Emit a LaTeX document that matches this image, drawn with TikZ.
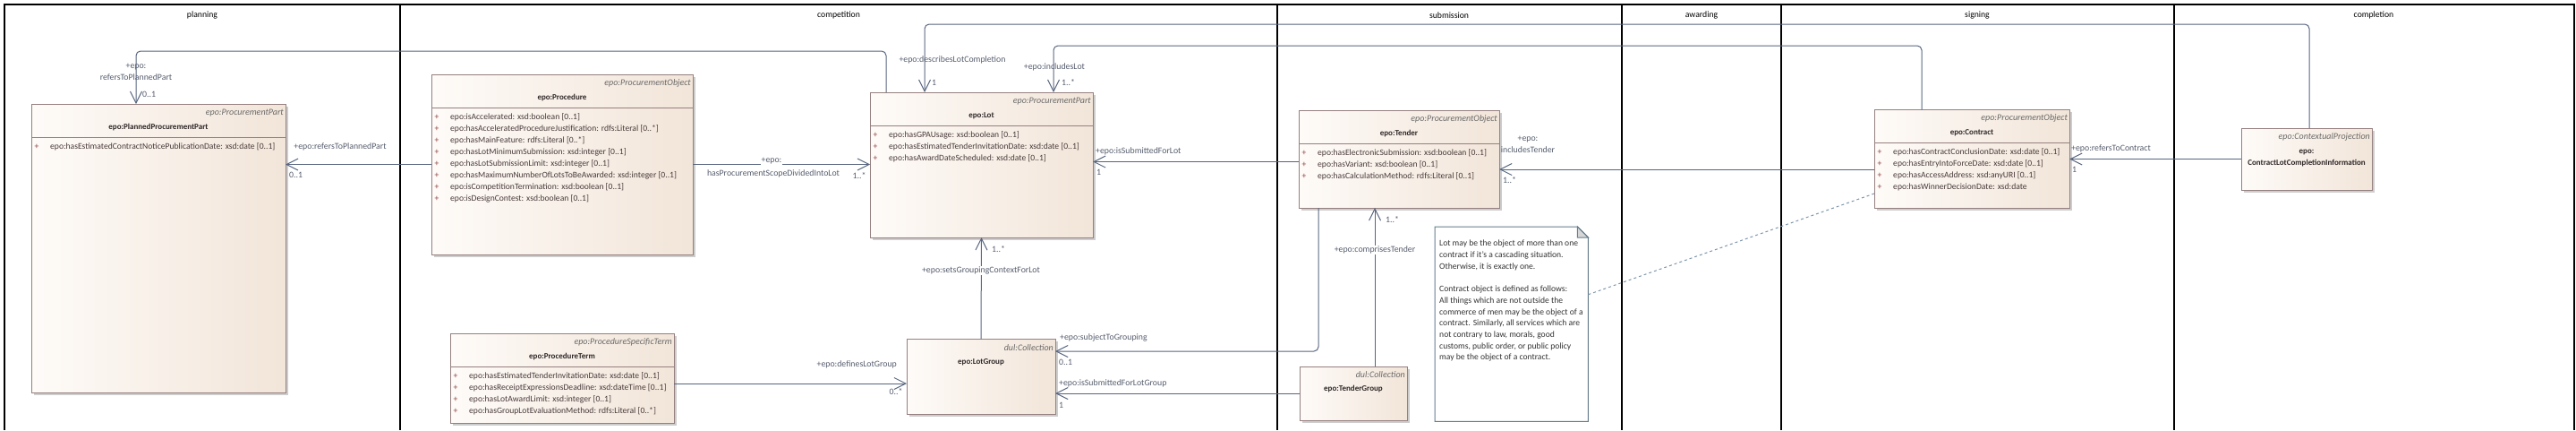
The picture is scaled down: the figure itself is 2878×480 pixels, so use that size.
\documentclass[tikz,border=0pt]{standalone}
\usepackage{fontspec}
\setmainfont{Carlito}
\usetikzlibrary{arrows.meta,shadows}

\definecolor{laneline}{RGB}{0,0,0}
\definecolor{boxline}{RGB}{150,128,128}
\definecolor{boxleft}{RGB}{254,251,248}
\definecolor{boxright}{RGB}{242,229,217}
\definecolor{shadowgray}{RGB}{205,205,205}
\definecolor{assocline}{RGB}{88,102,128}
\definecolor{roletext}{RGB}{85,92,108}
\definecolor{attrtext}{RGB}{72,58,58}
\definecolor{plustext}{RGB}{140,64,64}
\definecolor{stereotext}{RGB}{105,105,105}
\definecolor{nametext}{RGB}{45,38,38}
\definecolor{noteline}{RGB}{100,124,140}
\definecolor{notefold}{RGB}{214,214,214}
\definecolor{anchorline}{RGB}{125,150,170}

\tikzset{
  lane/.style={draw=laneline, line width=1.4pt},
  lanehead/.style={font=\fontsize{9.7}{11}\selectfont, text=black},
  classbox/.style={draw=boxline, line width=1pt, left color=boxleft, right color=boxright,
    inner sep=0pt, outer sep=0pt, anchor=north west,
    drop shadow={shadow xshift=2.5pt, shadow yshift=-2.5pt, fill=shadowgray, opacity=1}},
  divider/.style={draw=boxline, line width=1pt},
  stereo/.style={anchor=east, inner sep=0pt, font=\itshape\fontsize{10}{11}\selectfont, text=stereotext},
  cname/.style={inner sep=0pt, align=center, font=\bfseries\fontsize{9}{13}\selectfont, text=nametext},
  attrplus/.style={inner sep=0pt, font=\fontsize{9.6}{11}\selectfont, text=plustext},
  attrtxt/.style={anchor=west, inner sep=0pt, font=\fontsize{9.6}{11}\selectfont, text=attrtext},
  assoc/.style={draw=assocline, line width=1pt, rounded corners=5pt},
  nav/.style={-{Straight Barb[length=13pt,width=13pt]}},
  role/.style={inner sep=0pt, align=center, font=\fontsize{9.8}{13}\selectfont, text=roletext},
  rolebg/.style={role, fill=white, inner sep=1pt},
  notebody/.style={draw=noteline, line width=1pt, fill=white},
  notetext/.style={anchor=north west, inner sep=0pt, align=left, font=\fontsize{9.6}{12.7}\selectfont, text=black!80},
  anchorlink/.style={draw=anchorline, line width=1pt, dash pattern=on 3pt off 3pt},
}

% attribute rows of a class box
\newcommand{\attrlist}[2]{%
  \foreach \a [count=\i from 0] in {#2}{
    \path (#1.north west) ++(6,{48+13*\i}) node[attrplus] {+};
    \path (#1.north west) ++(21,{48+13*\i}) node[attrtxt] {\a};
  }}

\begin{document}
\begin{tikzpicture}[x=1pt, y=-1pt]
  \useasboundingbox (0,0) rectangle (2878,480);

  % lanes
  \draw[lane] (5,480) -- (5,5) -- (2876,5) -- (2876,480);
  \foreach \x in {447,1427,1812,1990,2429}
    \draw[lane] (\x,5) -- (\x,480);
  \foreach \x/\t in {226/planning,937/competition,1619/submission,1901/awarding,2209/signing,2652/completion}
    \node[lanehead] (head-\t) at (\x,17) {\t};

  % planning
  \node[classbox, minimum width=284, minimum height=322] (ppp) at (35,116) {};
  \draw[divider] ([yshift=-37pt]ppp.north west) -- ([yshift=-37pt]ppp.north east);
  \path (ppp.north east) ++(-2,10) node[stereo] {epo:ProcurementPart};
  \path (ppp.north) ++(0,26) node[cname] {epo:PlannedProcurementPart};
  \attrlist{ppp}{{epo:hasEstimatedContractNoticePublicationDate: xsd:date [0..1]}}

  % competition
  \node[classbox, minimum width=292, minimum height=201] (procedure) at (482,83) {};
  \draw[divider] ([yshift=-37pt]procedure.north west) -- ([yshift=-37pt]procedure.north east);
  \path (procedure.north east) ++(-2,10) node[stereo] {epo:ProcurementObject};
  \path (procedure.north) ++(0,26) node[cname] {epo:Procedure};
  \attrlist{procedure}{{epo:isAccelerated: xsd:boolean [0..1]},
    {epo:hasAcceleratedProcedureJustification: rdfs:Literal [0..*]},
    {epo:hasMainFeature: rdfs:Literal [0..*]},
    {epo:hasLotMinimumSubmission: xsd:integer [0..1]},
    {epo:hasLotSubmissionLimit: xsd:integer [0..1]},
    {epo:hasMaximumNumberOfLotsToBeAwarded: xsd:integer [0..1]},
    {epo:isCompetitionTermination: xsd:boolean [0..1]},
    {epo:isDesignContest: xsd:boolean [0..1]}}

  \node[classbox, minimum width=250, minimum height=100] (procterm) at (503,372) {};
  \draw[divider] ([yshift=-37pt]procterm.north west) -- ([yshift=-37pt]procterm.north east);
  \path (procterm.north east) ++(-2,10) node[stereo] {epo:ProcedureSpecificTerm};
  \path (procterm.north) ++(0,26) node[cname] {epo:ProcedureTerm};
  \attrlist{procterm}{{epo:hasEstimatedTenderInvitationDate: xsd:date [0..1]},
    {epo:hasReceiptExpressionsDeadline: xsd:dateTime [0..1]},
    {epo:hasLotAwardLimit: xsd:integer [0..1]},
    {epo:hasGroupLotEvaluationMethod: rdfs:Literal [0..*]}}

  \node[classbox, minimum width=249, minimum height=162] (lot) at (972,103) {};
  \draw[divider] ([yshift=-37pt]lot.north west) -- ([yshift=-37pt]lot.north east);
  \path (lot.north east) ++(-2,10) node[stereo] {epo:ProcurementPart};
  \path (lot.north) ++(0,26) node[cname] {epo:Lot};
  \attrlist{lot}{{epo:hasGPAUsage: xsd:boolean [0..1]},
    {epo:hasEstimatedTenderInvitationDate: xsd:date [0..1]},
    {epo:hasAwardDateScheduled: xsd:date [0..1]}}

  \node[classbox, minimum width=166, minimum height=84] (lotgroup) at (1013,378) {};
  \path (lotgroup.north east) ++(-2,10) node[stereo] {dul:Collection};
  \path (lotgroup.north) ++(0,26) node[cname] {epo:LotGroup};

  % submission
  \node[classbox, minimum width=224, minimum height=109] (tender) at (1451,123) {};
  \draw[divider] ([yshift=-37pt]tender.north west) -- ([yshift=-37pt]tender.north east);
  \path (tender.north east) ++(-2,10) node[stereo] {epo:ProcurementObject};
  \path (tender.north) ++(0,26) node[cname] {epo:Tender};
  \attrlist{tender}{{epo:hasElectronicSubmission: xsd:boolean [0..1]},
    {epo:hasVariant: xsd:boolean [0..1]},
    {epo:hasCalculationMethod: rdfs:Literal [0..1]}}

  \node[classbox, minimum width=120, minimum height=60] (tendergroup) at (1452,409) {};
  \path (tendergroup.north east) ++(-2,9) node[stereo] {dul:Collection};
  \path (tendergroup.north) ++(0,25) node[cname] {epo:TenderGroup};

  \node[anchor=north west, inner sep=0pt, minimum width=171, minimum height=217] (note) at (1603,253) {};
  \draw[notebody] (note.north west) -- ([xshift=-12pt]note.north east) -- ([yshift=-12pt]note.north east)
    -- (note.south east) -- (note.south west) -- cycle;
  \draw[draw=noteline, fill=notefold, line width=1pt] ([xshift=-12pt]note.north east)
    -- ([xshift=-12pt,yshift=-12pt]note.north east) -- ([yshift=-12pt]note.north east) -- cycle;
  \node[notetext] (notetxt) at (1608,268) {Lot may be the object of more than one\\
    contract if it's a cascading situation.\\
    Otherwise, it is exactly one.\\[12.7pt]
    Contract object is defined as follows:\\
    All things which are not outside the\\
    commerce of men may be the object of a\\
    contract. Similarly, all services which are\\
    not contrary to law, morals, good\\
    customs, public order, or public policy\\
    may be the object of a contract.};

  % signing
  \node[classbox, minimum width=218, minimum height=110] (contract) at (2094,122) {};
  \draw[divider] ([yshift=-37pt]contract.north west) -- ([yshift=-37pt]contract.north east);
  \path (contract.north east) ++(-2,10) node[stereo] {epo:ProcurementObject};
  \path (contract.north) ++(0,26) node[cname] {epo:Contract};
  \attrlist{contract}{{epo:hasContractConclusionDate: xsd:date [0..1]},
    {epo:hasEntryIntoForceDate: xsd:date [0..1]},
    {epo:hasAccessAddress: xsd:anyURI [0..1]},
    {epo:hasWinnerDecisionDate: xsd:date}}

  % completion
  \node[classbox, minimum width=146, minimum height=69] (clci) at (2504,143) {};
  \path (clci.north east) ++(-2,10) node[stereo] {epo:ContextualProjection};
  \path (clci.north) ++(0,33) node[cname] {epo:\\ContractLotCompletionInformation};

  % associations
  \draw[assoc,nav] ([xshift=18pt]lot.north west) |- ([xshift=117pt,yshift=59pt]ppp.north west)
    -- ([xshift=117pt]ppp.north west);
  \draw[assoc,nav] (procedure.west) -- (procedure.west -| ppp.east);
  \draw[assoc,nav] (procedure.east) -- (procedure.east -| lot.west);
  \draw[assoc,nav] ([xshift=76pt]clci.north west) |- ([xshift=61pt,yshift=76pt]lot.north west)
    -- ([xshift=61pt]lot.north west);
  \draw[assoc,nav] ([xshift=53pt]contract.north west) |- ([xshift=205pt,yshift=52pt]lot.north west)
    -- ([xshift=205pt]lot.north west);
  \draw[assoc,nav] ([yshift=-3pt]tender.west) -- ([yshift=-3pt]tender.west -| lot.east);
  \draw[assoc,nav] ([yshift=-12pt]contract.west) -- ([yshift=-12pt]contract.west -| tender.east);
  \draw[assoc,nav] (clci.west) -- (clci.west -| contract.east);
  \draw[assoc,nav] (lotgroup.north) -- (lot.south);
  \draw[assoc,nav] ([yshift=-6pt]procterm.east) -- ([yshift=-6pt]procterm.east -| lotgroup.west);
  \draw[assoc,nav] ([xshift=22pt]tender.south west) |- ([yshift=28pt]lotgroup.east);
  \draw[assoc,nav] (tendergroup.west) -- (tendergroup.west -| lotgroup.east);
  \draw[assoc,nav] ([xshift=84pt]tendergroup.north west) -- ([xshift=84pt]tendergroup.north west |- tender.south);
  \draw[anchorlink] ([yshift=33pt]note.east) -- ([yshift=-39pt]contract.west);

  % role names and multiplicities
  \node[role] (r-ppp-top) at (152,80) {+epo:\\refersToPlannedPart};
  \node[role, anchor=west] (m-ppp-top) at (159,105) {0..1};
  \node[role] (r-ppp-side) at (380,164) {+epo:refersToPlannedPart};
  \node[role, anchor=west] (m-ppp-side) at (323,195) {0..1};
  \node[rolebg] (r-lot-a) at (862,180) {+epo:};
  \node[role] (r-lot-b) at (864,194) {hasProcurementScopeDividedIntoLot};
  \node[role] (m-lot-west) at (960,196) {1..*};
  \node[role] (r-compl) at (1064,67) {+epo:describesLotCompletion};
  \node[role, anchor=west] (m-compl) at (1041,92) {1};
  \node[role] (r-incl) at (1178,75) {+epo:includesLot};
  \node[role, anchor=west] (m-incl) at (1186,92) {1..*};
  \node[role, anchor=west] (r-subm) at (1224,169) {+epo:isSubmittedForLot};
  \node[role, anchor=west] (m-subm) at (1225,192) {1};
  \node[role, anchor=west] (m-ctx) at (1108,278) {1..*};
  \node[rolebg] (r-ctx) at (1096,302) {+epo:setsGroupingContextForLot};
  \node[role, anchor=east] (r-defs) at (1002,407) {+epo:definesLotGroup};
  \node[role] (m-defs) at (1001,437) {0..*};
  \node[role, anchor=west] (r-subj) at (1184,377) {+epo:subjectToGrouping};
  \node[role, anchor=west] (m-subj) at (1183,404) {0..1};
  \node[role, anchor=west] (r-subgrp) at (1183,428) {+epo:isSubmittedForLotGroup};
  \node[role, anchor=west] (m-subgrp) at (1183,452) {1};
  \node[role] (r-incten) at (1707,161) {+epo:\\includesTender};
  \node[role, anchor=west] (m-incten) at (1679,201) {1..*};
  \node[role, anchor=west] (m-compr) at (1548,245) {1..*};
  \node[rolebg] (r-compr) at (1536,279) {+epo:comprisesTender};
  \node[role, anchor=west] (r-refc) at (2314,166) {+epo:refersToContract};
  \node[role, anchor=west] (m-refc) at (2315,189) {1};
\end{tikzpicture}
\end{document}
